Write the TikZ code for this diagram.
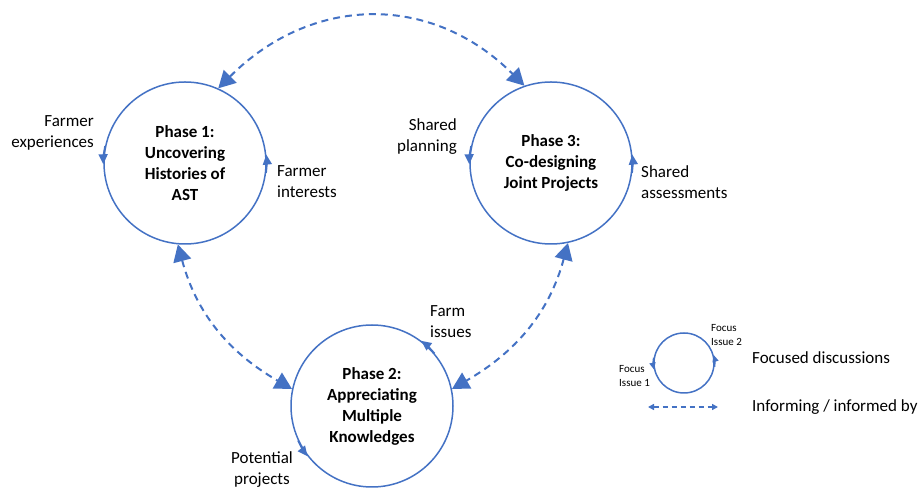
\documentclass[tikz,border=0pt]{standalone}
\usepackage{fontspec}
\setmainfont{Carlito}
\usetikzlibrary{arrows.meta}
\definecolor{phaseblue}{RGB}{68,114,196}
\tikzset{
  phase/.style={circle,draw=phaseblue,line width=1.5pt,minimum size=162pt,inner sep=0pt,align=center,font=\fontsize{17}{21}\selectfont\bfseries},
  lbl/.style={inner sep=0pt,font=\fontsize{17}{21}\selectfont},
  tiny/.style={inner sep=0pt,align=left,font=\fontsize{11}{14}\selectfont},
  turn/.style={draw=phaseblue,line width=1.5pt,-{Triangle[length=10pt,width=9pt]}},
  inform/.style={draw=phaseblue,line width=2pt,dash pattern=on 7pt off 5pt,{Triangle[length=17pt,width=18pt]}-{Triangle[length=17pt,width=18pt]}}
}
\begin{document}
\begin{tikzpicture}[x=1pt,y=1pt]
      \useasboundingbox (0,0) rectangle (921,492);
      \node [phase] (1) at (185,329) {Phase 1:\\Uncovering\\Histories of\\AST};
      \node [phase] (3) at (551,329) {Phase 3:\\Co-designing\\Joint Projects};
      \node [phase] (2) at (372,86) {Phase 2:\\Appreciating\\Multiple\\Knowledges};
      \node [circle,draw=phaseblue,line width=1.5pt,minimum size=60pt] (f) at (684,129) {};

      \node [lbl,align=right,anchor=east] (1a) at (94,359) {Farmer\\experiences};
      \node [lbl,align=left,anchor=west] (1b) at (277,310) {Farmer\\interests};
      \node [lbl,align=right,anchor=east] (3a) at (457,355) {Shared\\planning};
      \node [lbl,align=left,anchor=west] (3b) at (641,310) {Shared\\assessments};
      \node [lbl,align=left,anchor=west] (2a) at (430,170) {Farm\\issues};
      \node [lbl,align=center] (2b) at (262,22) {Potential\\projects};
      \node [tiny,anchor=west] (fa) at (711,157) {Focus\\Issue 2};
      \node [tiny,anchor=west] (fb) at (619,116) {Focus\\Issue 1};
      \node [lbl,anchor=west] (k1) at (752,134) {Focused discussions};
      \node [lbl,anchor=west] (k2) at (752,85) {Informing / informed by};

      \draw[turn] (1.168) arc[start angle=168,end angle=181,radius=81pt];
      \draw[turn] (1.353) arc[start angle=353,end angle=366,radius=81pt];
      \draw[turn] (3.168) arc[start angle=168,end angle=181,radius=81pt];
      \draw[turn] (3.353) arc[start angle=353,end angle=366,radius=81pt];
      \draw[turn] (2.40) arc[start angle=40,end angle=53,radius=81pt];
      \draw[turn] (2.205) arc[start angle=205,end angle=218,radius=81pt];
      \draw[turn,-{Triangle[length=7pt,width=6pt]}] (f.170) arc[start angle=170,end angle=193,radius=30pt];
      \draw[turn,-{Triangle[length=7pt,width=6pt]}] (f.353) arc[start angle=353,end angle=376,radius=30pt];

      \draw[inform] (1.66) to[out=45,in=135,looseness=1.1] (3.109);
      \draw[inform] (1.265) to[out=-75,in=150] (2.168);
      \draw[inform] (3.282) to[out=-105,in=30] (2.12);
      \coordinate (ka) at (648,85);
      \coordinate (kb) at (718,85);
      \draw[inform,line width=1.5pt,dash pattern=on 5pt off 4pt,{Triangle[length=6pt,width=6pt]}-{Triangle[length=6pt,width=6pt]}] (ka) -- (kb);
\end{tikzpicture}
\end{document}
